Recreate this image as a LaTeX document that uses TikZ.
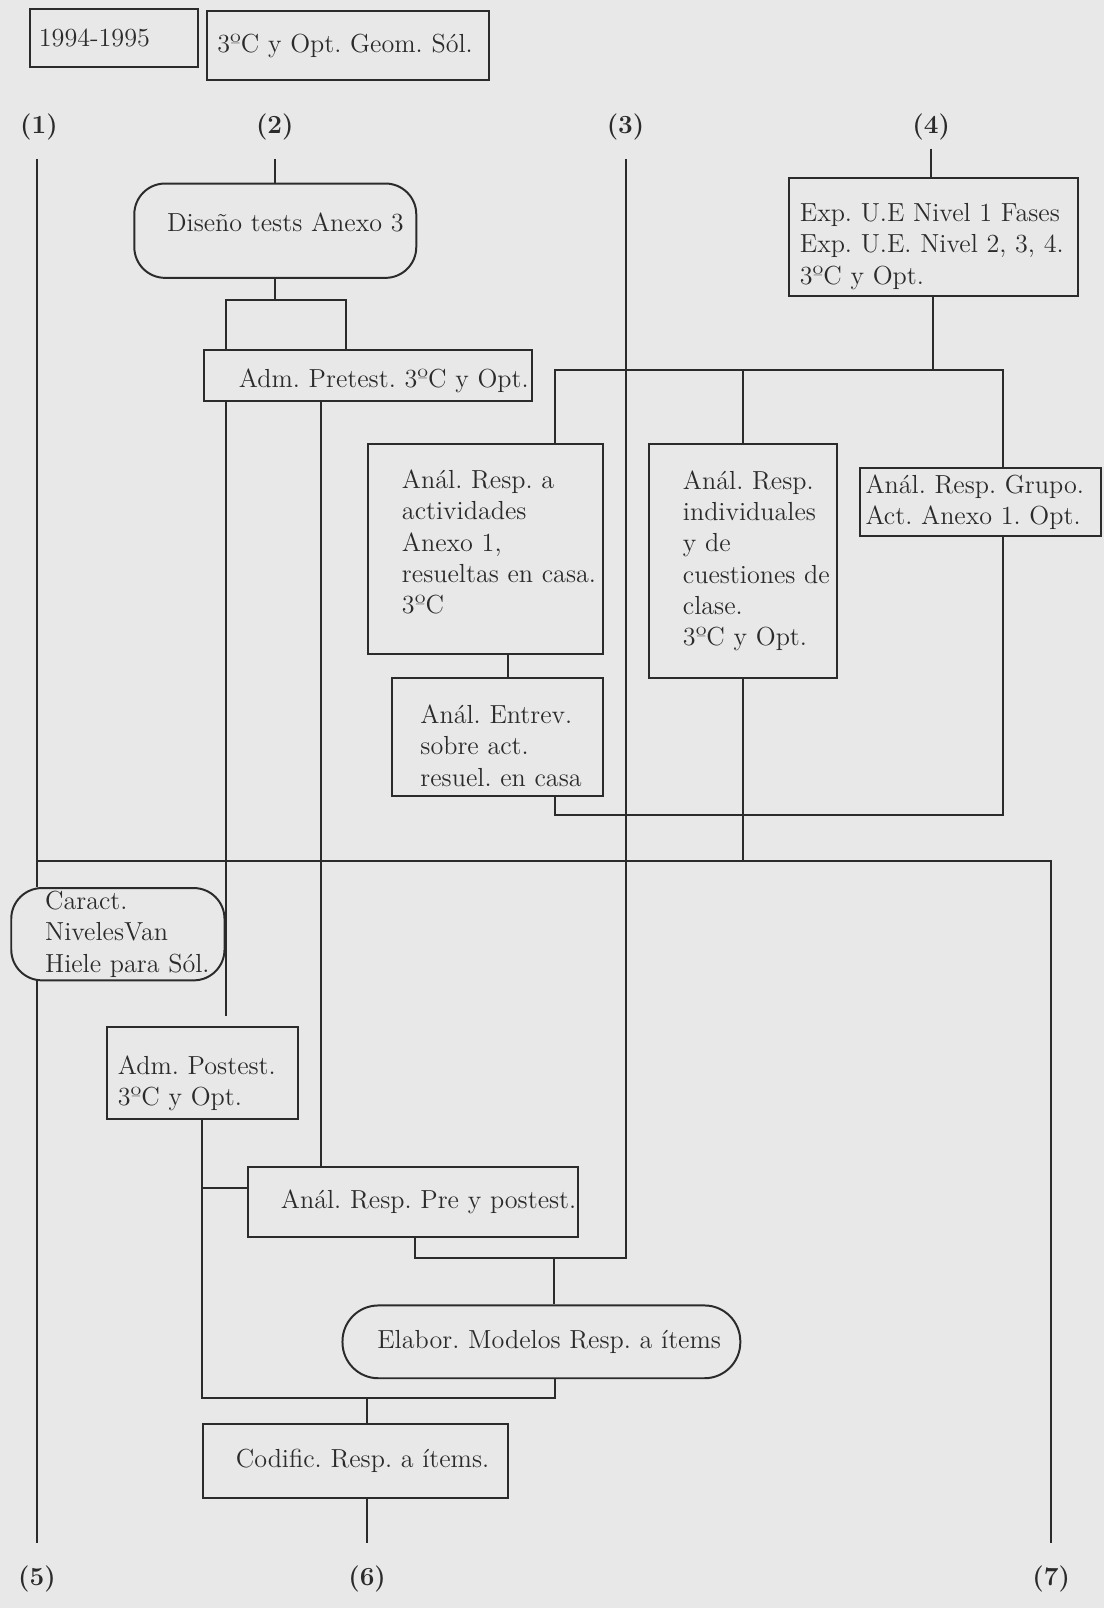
\documentclass[tikz,border=0pt]{standalone}
\usepackage{tikz}
\usepackage{xcolor}
\definecolor{ink}{HTML}{2B2B2B}
\definecolor{paper}{HTML}{E8E8E8}
\newcommand{\boxfont}{\fontsize{14.5}{17.4}\selectfont\frenchspacing}

\begin{document}
\begin{tikzpicture}[x=0.02cm,y=-0.02cm,
    color=ink, line width=1.1pt,
    box/.style n args={3}{draw=ink, fill=paper, inner sep=0pt, anchor=north west,
      font=\boxfont, text width=#1, minimum height=#2,
      execute at begin node={\leftskip=#3\rightskip=0pt plus 1fill}},
    lab/.style={font=\boxfont\bfseries, inner sep=0pt}]
  \useasboundingbox (0,0) rectangle (1077,1568);
  \fill[paper] (0,0) rectangle (1077,1568);

  % header boxes
  \node[box={3.28cm}{1.12cm}{0.18cm}] (year) at (28,8) {1994-1995};
  \node[box={5.5cm}{1.34cm}{0.2cm}] (course) at (201,10) {3ºC y Opt. Geom. Sól.};

  % column labels
  \node[lab] (n1) at (38,124) {(1)};
  \node[lab] (n2) at (268,124) {(2)};
  \node[lab] (n3) at (610,124) {(3)};
  \node[lab] (n4) at (908,124) {(4)};
  \node[lab] (n5) at (36,1540) {(5)};
  \node[lab] (n6) at (358,1540) {(6)};
  \node[lab] (n7) at (1025,1540) {(7)};

  % steps
  \node[box={5.5cm}{1.84cm}{0.64cm}, rounded corners=0.6cm, text depth=10pt] (design) at (130,178) {Diseño tests Anexo 3};
  \node[box={6.4cm}{1cm}{0.68cm}, text height=16.5pt] (pretest) at (198,340) {Adm. Pretest. 3ºC y Opt.};
  \node[box={5.64cm}{2.3cm}{0.22cm}, text height=20pt] (expue) at (768,173) {Exp. U.E Nivel 1 Fases\\ Exp. U.E. Nivel 2, 3, 4.\\ 3ºC y Opt.};
  \node[box={4.58cm}{4.1cm}{0.66cm}, text depth=77.6pt] (analact) at (358,432) {Anál. Resp. a\\ actividades\\ Anexo 1,\\ resueltas en casa.\\ 3ºC};
  \node[box={4.12cm}{2.3cm}{0.56cm}, text height=20pt] (entrev) at (381,660) {Anál. Entrev.\\ sobre act.\\ resuel. en casa};
  \node[box={3.66cm}{4.56cm}{0.66cm}] (analind) at (632,432) {Anál. Resp.\\ individuales\\ y de\\ cuestiones~de\\ clase.\\ 3ºC y Opt.};
  \node[box={4.7cm}{1.34cm}{0.1cm}] (analgrp) at (838,455) {Anál. Resp. Grupo.\\ Act. Anexo 1. Opt.};
  \node[box={4.16cm}{1.8cm}{0.66cm}, rounded corners=0.6cm] (caract) at (10,865) {Caract.\\ NivelesVan\\ Hiele para Sól.};
  \node[box={3.74cm}{1.8cm}{0.22cm}, text height=22pt] (postest) at (103,1000) {Adm. Postest.\\ 3ºC y Opt.};
  \node[box={6.44cm}{1.36cm}{0.64cm}] (analpre) at (241,1137) {Anál. Resp. Pre y postest.};
  \node[box={7.76cm}{1.42cm}{0.68cm}, rounded corners=0.7cm] (elabor) at (333,1272) {Elabor. Modelos Resp. a ítems};
  \node[box={5.94cm}{1.44cm}{0.64cm}] (codif) at (197,1388) {Codific. Resp. a ítems.};

  % column (1) down to (5)
  \coordinate (top1) at (36,155);
  \coordinate (bot5) at (36,1505);
  \draw (top1) -- (top1 |- caract.north);
  \draw (top1 |- caract.south) -- (bot5);

  % column (2)
  \coordinate (top2) at (268,155);
  \coordinate (fl) at (220,293);
  \coordinate (fr) at (337,293);
  \coordinate (pb) at (313,390);
  \draw (top2) -- (top2 |- design.north);
  \draw (design.south) -- (design.south |- fl);
  \draw (fl |- pretest.north) -- (fl) -- (fr) -- (fr |- pretest.north);
  \draw (fl |- pretest.south) -- ([yshift=0.18cm]fl |- postest.north);
  \draw (pb) -- (pb |- analpre.north);

  % crossing line to (7)
  \coordinate (h1) at (36,840);
  \coordinate (h7) at (1025,840);
  \coordinate (bot7) at (1025,1505);
  \draw (h1) -- (h7) -- (bot7);
  \draw (analind.south) -- (analind.south |- h1);

  % column (3)
  \coordinate (top3) at (610,155);
  \coordinate (r3) at (610,1227);
  \coordinate (l3) at (405,1227);
  \coordinate (e3) at (540,1227);
  \draw (top3) -- (r3) -- (l3) -- (l3 |- analpre.south);
  \draw (e3) -- (e3 |- elabor.north);

  % column (4)
  \coordinate (top4) at (908,145);
  \coordinate (bl) at (541,361);
  \coordinate (br) at (978,361);
  \coordinate (ae) at (495,637);
  \coordinate (cl) at (541,795);
  \coordinate (cr) at (978,795);
  \draw (top4) -- (top4 |- expue.north);
  \draw (expue.south) -- (expue.south |- bl);
  \draw (bl |- analact.north) -- (bl) -- (br) -- (br |- analgrp.north);
  \draw (analind.north) -- (analind.north |- bl);
  \draw (ae) -- (ae |- entrev.north);
  \draw (cl |- entrev.south) -- (cl) -- (cr) -- (cr |- analgrp.south);

  % post-test and coding
  \coordinate (s1) at (197,1158);
  \coordinate (q1) at (197,1363);
  \coordinate (q2) at (541,1363);
  \coordinate (q3) at (358,1363);
  \coordinate (bot6) at (358,1505);
  \draw (postest.south) -- (postest.south |- q1) -- (q2) -- (q2 |- elabor.south);
  \draw (s1) -- (s1 -| analpre.west);
  \draw (q3) -- (q3 |- codif.north);
  \draw (q3 |- codif.south) -- (bot6);
\end{tikzpicture}
\end{document}
